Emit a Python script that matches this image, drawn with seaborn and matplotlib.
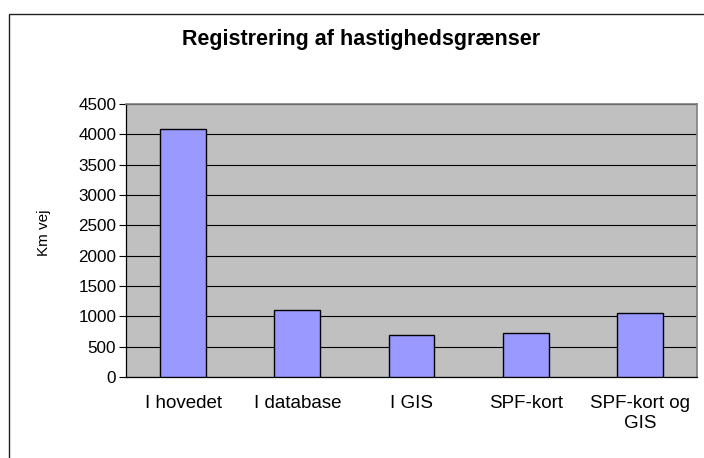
import matplotlib
matplotlib.use("Agg")
import matplotlib.pyplot as plt
import seaborn as sns
import pandas as pd
from matplotlib.patches import Rectangle

categories = ["I hovedet", "I database", "I GIS", "SPF-kort", "SPF-kort og\nGIS"]
values = [4080, 1110, 695, 723, 1055]
yticks = [0, 500, 1000, 1500, 2000, 2500, 3000, 3500, 4000, 4500]

title = "Registrering af hastighedsgrænser"
ylabel = "Km vej"

sns.set_theme(style="white")
plt.rcParams["font.family"] = ["Liberation Sans", "DejaVu Sans"]

W, H = 704, 458
fig = plt.figure(figsize=(W / 100, H / 100), dpi=100)
fig.patch.set_facecolor("white")
ax = fig.add_axes([126 / W, (H - 377) / H, (697 - 126) / W, (377 - 104) / H])

df = pd.DataFrame({"cat": categories, "val": values})
sns.barplot(data=df, x="cat", y="val", color="#9999FF", edgecolor="black",
            linewidth=1.0, width=0.4, saturation=1, ax=ax, zorder=3)

ax.set_facecolor("#C0C0C0")
ax.set_xlim(-0.5, len(categories) - 0.5)
ax.set_ylim(0, 4500)
ax.set_yticks(yticks)
ax.set_yticklabels([str(v) for v in yticks], fontsize=12.3, color="black")
ax.yaxis.grid(True, color="black", linewidth=0.8, zorder=1)
ax.set_axisbelow(True)

ax.set_xticks(range(len(categories)))
ax.set_xticklabels(categories, fontsize=13.5, linespacing=1.2, color="black")
ax.set_xticks([i - 0.5 for i in range(len(categories) + 1)], minor=True)
ax.tick_params(axis="x", which="major", length=0, pad=13)
ax.tick_params(axis="x", which="minor", length=5, width=0.8, color="black", direction="out")
ax.tick_params(axis="y", which="major", length=5, width=0.8, color="black", direction="out", pad=2, left=True)

ax.set_xlabel("")
ax.set_ylabel(ylabel, fontsize=11, color="black")
ax.yaxis.set_label_coords(-0.132, 0.527)

for s in ["left", "bottom"]:
    ax.spines[s].set_color("black")
    ax.spines[s].set_linewidth(0.9)
for s in ["top", "right"]:
    ax.spines[s].set_color("#808080")
    ax.spines[s].set_linewidth(1.2)

fig.text(361 / W, 1 - 40 / H, title, ha="center", va="center",
         fontsize=15.5, fontweight="bold", color="black")

fig.add_artist(Rectangle((9 / W, -0.05), 1.2, (H - 14) / H + 0.05, fill=False,
                         edgecolor="#222222", linewidth=1.0, transform=fig.transFigure))

fig.savefig("out.png", dpi=100)
